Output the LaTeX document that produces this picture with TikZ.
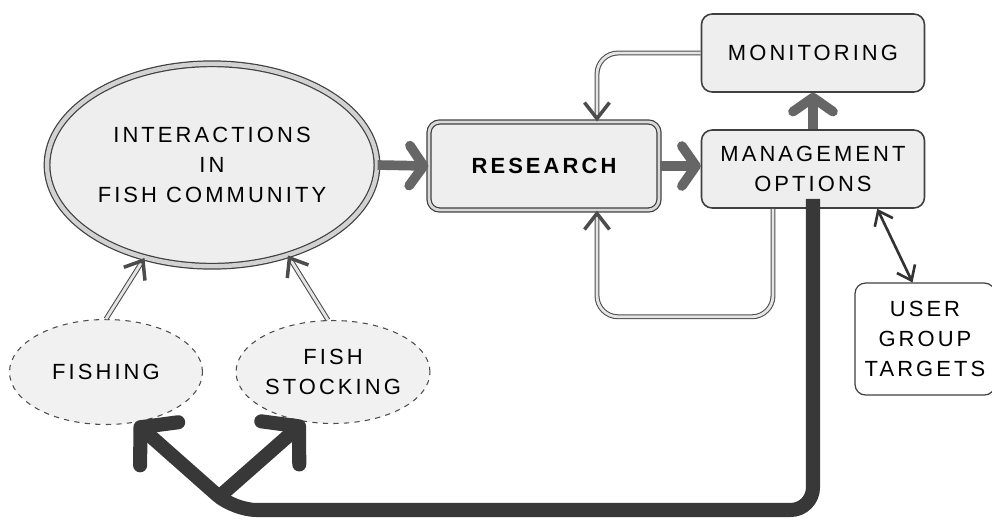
\documentclass[tikz,border=0pt]{standalone}
\usepackage{fontspec}
\newfontfamily\diagfont{Liberation Sans}[LetterSpace=14]
\usetikzlibrary{arrows.meta,shapes.geometric}
\tikzstyle{box} = [rectangle, rounded corners=6pt, minimum width=4.46cm, minimum height=1.56cm, text centered, align=center, draw=black!75, line width=0.9pt, fill=gray!13, font=\diagfont\fontsize{12.5}{17}\selectfont]
\tikzstyle{bubble} = [ellipse, inner sep=0pt, text centered, align=center, draw=black!70, dashed, line width=0.6pt, fill=gray!11, font=\diagfont\fontsize{12.5}{17}\selectfont]
\tikzstyle{grayarrow} = [draw=gray!80!black, line width=5.5pt, -{Straight Barb[round, length=0.28cm, width=0.8cm]}]
\tikzstyle{hollow} = [draw=gray!60!black, double=gray!20, double distance=1.6pt, line width=0.6pt, -{Straight Barb[length=0.32cm, width=0.5cm, line width=2pt]}]
\tikzstyle{darkarrow} = [draw=black!78, line width=8pt, -{Straight Barb[round, length=0.5cm, width=1.15cm]}]

\begin{document}
\begin{tikzpicture}[x=0.02cm, y=-0.02cm]
        \useasboundingbox (0,0) rectangle (992,522);
        \node[bubble, solid, draw=black!75, double=gray!35, double distance=2.5pt, line width=0.7pt, fill=gray!13, minimum width=6.6cm, minimum height=4.05cm] (inter) at (212,165) {INTERACTIONS\\IN\\FISH COMMUNITY};
        \node[box, double=gray!30, double distance=1.6pt, line width=0.7pt, minimum width=4.6cm, minimum height=1.76cm, font=\diagfont\bfseries\fontsize{12.5}{17}\selectfont] (research) at (544,166) {RESEARCH};
        \node[box] (monitor) at (813,53) {MONITORING};
        \node[box] (manage) at (813,169) {MANAGEMENT\\OPTIONS};
        \node[box, fill=white, line width=0.7pt, minimum width=2.8cm, minimum height=2.24cm] (user) at (925,339) {USER\\GROUP\\TARGETS};
        \node[bubble, minimum width=3.86cm, minimum height=2.1cm] (fishing) at (106,372) {FISHING};
        \node[bubble, minimum width=3.88cm, minimum height=2.06cm] (stocking) at (333,372) {FISH\\STOCKING};
        \coordinate (fork) at (234,510);
        \coordinate (fork2) at (220,496);
        \begin{scope}
            \draw[grayarrow] (inter.east) -- (research.west);
            \draw[grayarrow] (research.east) -- (research.east -| manage.west);
            \draw[grayarrow] (manage.north) -- (monitor.south);
            \draw[hollow, rounded corners=12pt] (monitor.west) -| ([xshift=1.06cm]research.north);
            \draw[hollow, rounded corners=12pt] ([xshift=-0.8cm]manage.south) -- ++(0,-2.16cm) -| ([xshift=1.06cm]research.south);
            \draw[hollow] (fishing.north) -- (inter.234);
            \draw[hollow] ([xshift=-0.1cm]stocking.north) -- (inter.310);
            \draw[darkarrow, rounded corners=0.45cm] ([yshift=0.2cm]manage.south) |- (fork) [sharp corners] -- (fishing.300);
            \draw[darkarrow] (fork2) -- (stocking.240);
            \draw[black!80, line width=1.5pt, {Straight Barb[length=0.26cm, width=0.4cm]}-{Straight Barb[length=0.26cm, width=0.4cm]}] ([xshift=-0.96cm]manage.south east) -- ([xshift=-0.25cm]user.north);
        \end{scope}
    \end{tikzpicture}
\end{document}
